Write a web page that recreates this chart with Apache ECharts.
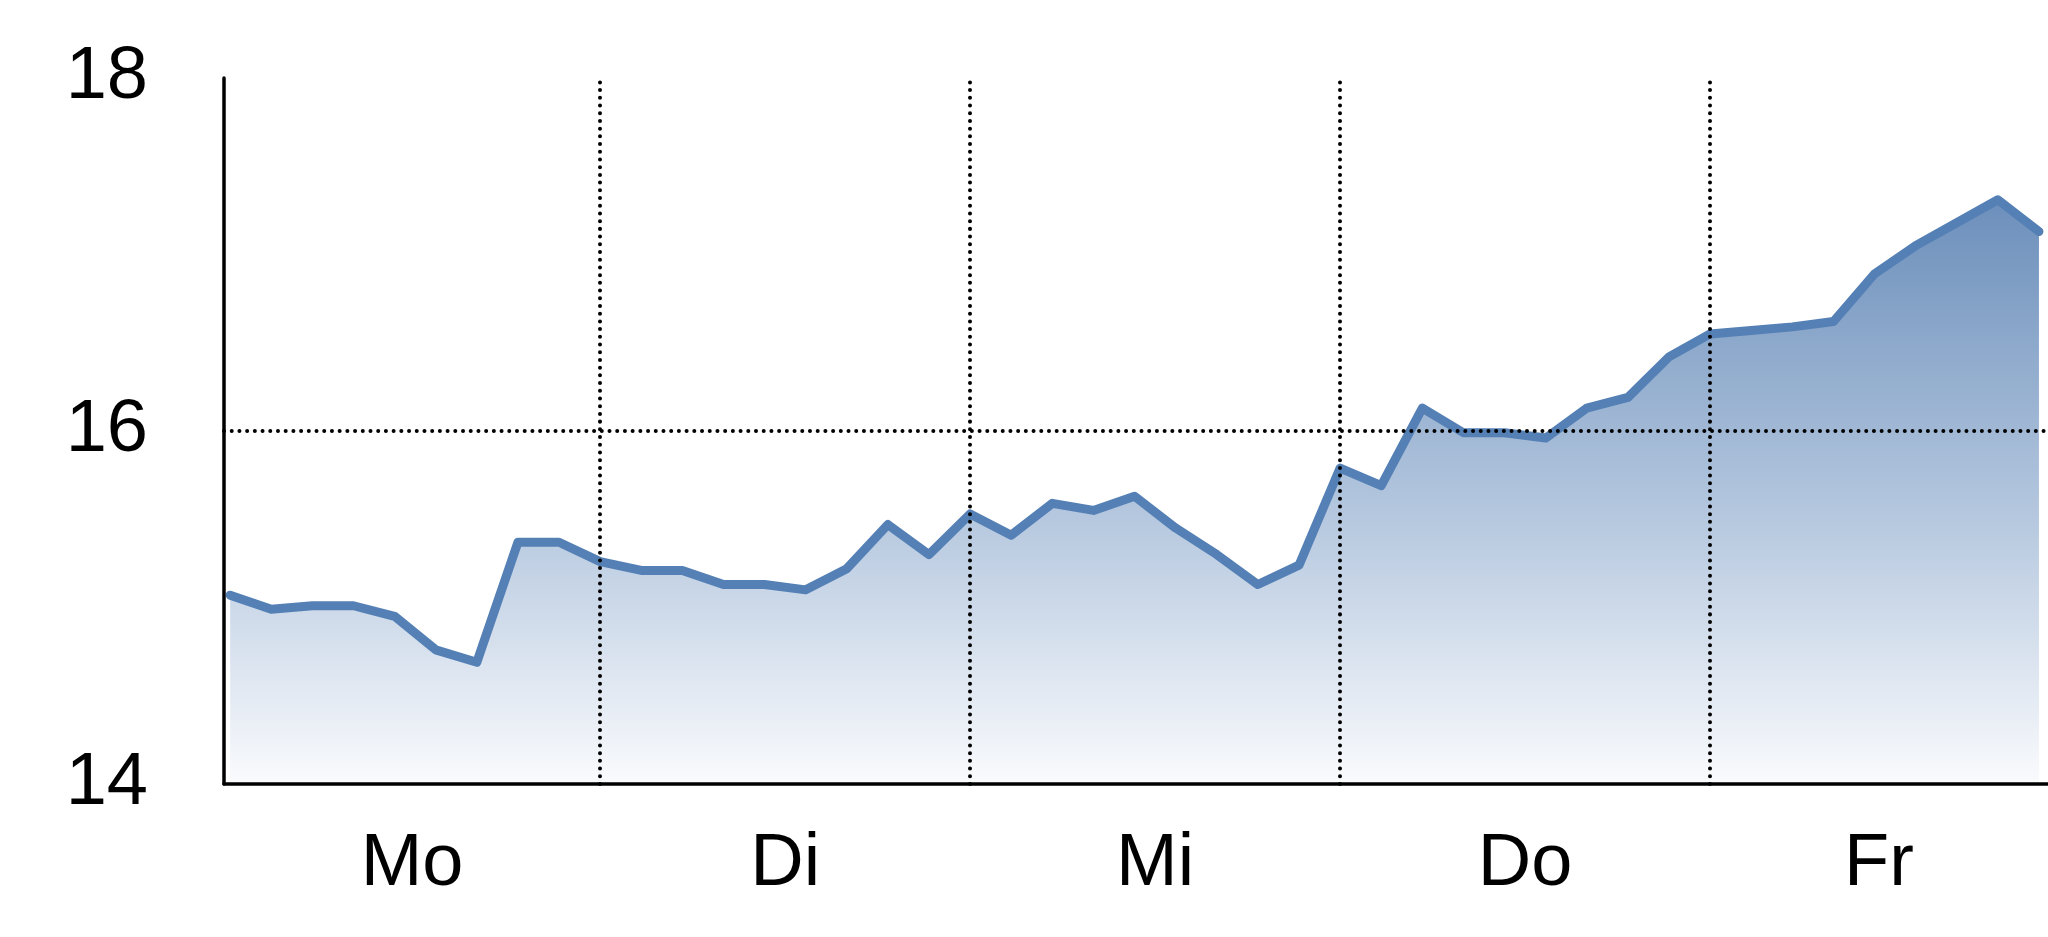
<!DOCTYPE html>
<html>
<head>
<meta charset="utf-8">
<script src="https://cdn.jsdelivr.net/npm/echarts@6/dist/echarts.min.js"></script>
<style>
html,body{margin:0;padding:0;background:#fff;}
#chart{width:2048px;height:937px;}
</style>
</head>
<body>
<div id="chart"></div>
<script>
// Day names (x-axis labels)
const days = ['Mo', 'Di', 'Mi', 'Do', 'Fr'];
// Number of samples per day
const pointsPerDay = 9;
// Y-axis tick labels
const yTicks = [14, 16, 18];
// Price series
const prices = [
  15.07, 14.99, 15.01, 15.01, 14.95, 14.76, 14.69, 15.37, 15.37,
  15.26, 15.21, 15.21, 15.13, 15.13, 15.10, 15.22, 15.47, 15.30,
  15.53, 15.41, 15.59, 15.55, 15.63, 15.45, 15.30, 15.13, 15.24,
  15.79, 15.69, 16.13, 15.99, 15.99, 15.96, 16.13, 16.19, 16.42,
  16.55, 16.57, 16.59, 16.62, 16.89, 17.05, 17.18, 17.31, 17.13
];

const xMin = -0.15, xMax = 44.22;
const bounds = [xMin];
for (let i = 1; i < days.length; i++) bounds.push(i * pointsPerDay);
bounds.push(xMax);
const dayCenters = days.map((d, i) => (bounds[i] + bounds[i + 1]) / 2);
const seriesData = prices.map((v, i) => [i, v]);

const chart = echarts.init(document.getElementById('chart'));
const FONT = 'Liberation Sans Narrow, Liberation Sans, Arial, sans-serif';
chart.setOption({
  animation: false,
  backgroundColor: '#ffffff',
  grid: { left: 224, right: 0, top: 78, bottom: 153 },
  xAxis: {
    type: 'value',
    min: xMin,
    max: xMax,
    z: 5,
    axisLine: { show: true, onZero: false, lineStyle: { color: '#000', width: 3.5 } },
    axisTick: { show: false },
    splitLine: { show: false },
    axisLabel: {
      customValues: dayCenters,
      margin: 44,
      color: '#000',
      fontSize: 74,
      fontFamily: FONT,
      formatter: function (v) {
        let best = 0, bd = Infinity;
        dayCenters.forEach((c, i) => { const d = Math.abs(c - v); if (d < bd) { bd = d; best = i; } });
        return days[best];
      }
    }
  },
  yAxis: {
    type: 'value',
    min: yTicks[0],
    max: yTicks[yTicks.length - 1],
    interval: 2,
    z: 5,
    axisLine: { show: true, onZero: false, lineStyle: { color: '#000', width: 3.5 } },
    axisTick: { show: false },
    splitLine: { show: false },
    axisLabel: { margin: 76, color: '#000', fontSize: 74, fontFamily: FONT }
  },
  series: [{
    type: 'line',
    data: seriesData,
    symbol: 'none',
    lineStyle: { color: '#5580b5', width: 9, join: 'round', cap: 'round' },
    areaStyle: {
      origin: 'start',
      opacity: 1,
      color: new echarts.graphic.LinearGradient(0, 0, 0, 1, [
        { offset: 0, color: 'rgb(108,143,187)' },
        { offset: 0.5, color: 'rgb(175,195,220)' },
        { offset: 1, color: 'rgb(250,251,253)' }
      ])
    },
    markLine: {
      silent: true,
      symbol: 'none',
      label: { show: false },
      lineStyle: { color: '#000', type: [0.01, 7.7], width: 4, cap: 'round' },
      data: bounds.slice(1, -1).map(b => ({ xAxis: b }))
        .concat([{ yAxis: yTicks[1] }])
    },
    z: 2
  }]
});
</script>
</body>
</html>
